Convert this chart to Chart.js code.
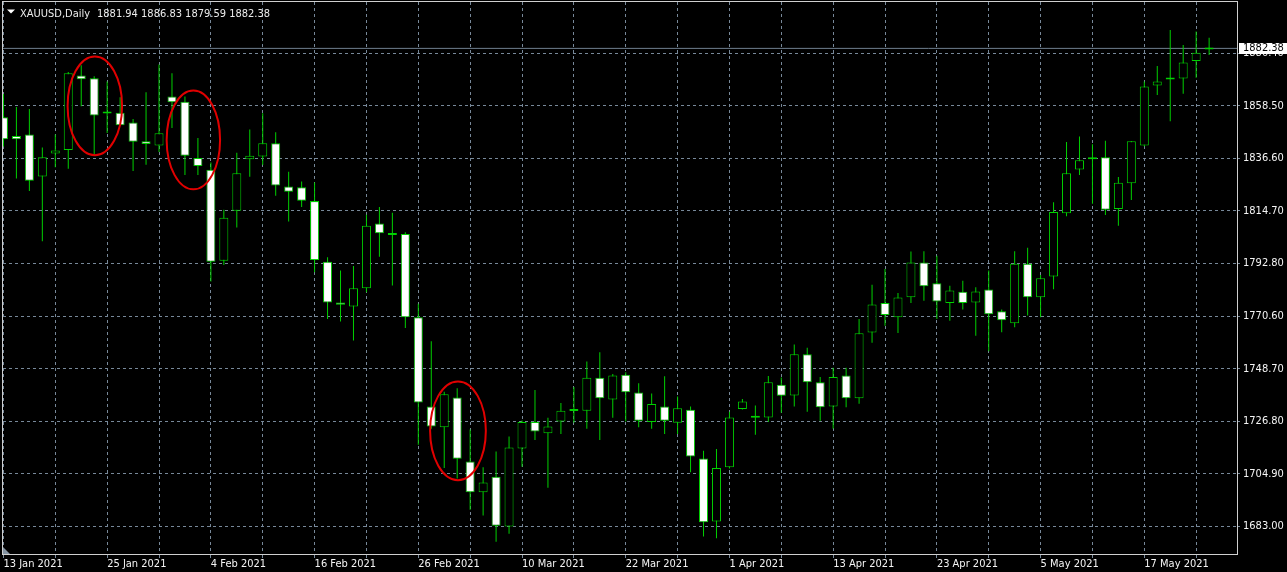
<!DOCTYPE html>
<html>
<head>
<meta charset="utf-8">
<script src="https://cdn.jsdelivr.net/npm/chart.js@4.4.1/dist/chart.umd.min.js"></script>
<style>
html,body{margin:0;padding:0;background:#000;overflow:hidden}
#wrap{width:1287px;height:572px;position:relative}
canvas{display:block}
</style>
</head>
<body>
<div id="wrap"><canvas id="c" width="1287" height="572"></canvas></div>
<script>
// ---------------- data ----------------
const symbol = 'XAUUSD,Daily';

const dates = ['13 Jan 2021','14 Jan 2021','15 Jan 2021','18 Jan 2021','19 Jan 2021','20 Jan 2021','21 Jan 2021','22 Jan 2021','25 Jan 2021','26 Jan 2021','27 Jan 2021','28 Jan 2021','29 Jan 2021',
'1 Feb 2021','2 Feb 2021','3 Feb 2021','4 Feb 2021','5 Feb 2021','8 Feb 2021','9 Feb 2021','10 Feb 2021','11 Feb 2021','12 Feb 2021','15 Feb 2021','16 Feb 2021','17 Feb 2021','18 Feb 2021','19 Feb 2021','22 Feb 2021','23 Feb 2021','24 Feb 2021','25 Feb 2021','26 Feb 2021',
'1 Mar 2021','2 Mar 2021','3 Mar 2021','4 Mar 2021','5 Mar 2021','8 Mar 2021','9 Mar 2021','10 Mar 2021','11 Mar 2021','12 Mar 2021','15 Mar 2021','16 Mar 2021','17 Mar 2021','18 Mar 2021','19 Mar 2021','22 Mar 2021','23 Mar 2021','24 Mar 2021','25 Mar 2021','26 Mar 2021','29 Mar 2021','30 Mar 2021','31 Mar 2021',
'1 Apr 2021','2 Apr 2021','5 Apr 2021','6 Apr 2021','7 Apr 2021','8 Apr 2021','9 Apr 2021','12 Apr 2021','13 Apr 2021','14 Apr 2021','15 Apr 2021','16 Apr 2021','19 Apr 2021','20 Apr 2021','21 Apr 2021','22 Apr 2021','23 Apr 2021','26 Apr 2021','27 Apr 2021','28 Apr 2021','29 Apr 2021','30 Apr 2021',
'3 May 2021','4 May 2021','5 May 2021','6 May 2021','7 May 2021','10 May 2021','11 May 2021','12 May 2021','13 May 2021','14 May 2021','17 May 2021','18 May 2021','19 May 2021','20 May 2021','21 May 2021','24 May 2021'];

const opens = [1853.7,1845.8,1846.5,1829.0,1838.5,1840.0,1871.1,1869.9,1855.9,1855.5,1851.5,1843.7,1841.9,
1862.3,1860.1,1836.7,1831.8,1793.8,1814.7,1836.1,1837.3,1842.8,1824.8,1824.5,1818.7,1793.4,1776.4,1774.7,1782.3,1809.3,1805.0,1805.0,1770.3,
1733.0,1724.4,1736.8,1710.1,1697.3,1703.7,1683.0,1715.5,1726.6,1721.9,1726.8,1731.2,1731.3,1745.0,1736.0,1746.3,1738.9,1726.6,1733.0,1726.3,1731.7,1711.4,1685.1,
1707.7,1732.0,1728.5,1728.4,1742.1,1737.6,1754.8,1743.2,1733.0,1746.0,1736.5,1763.9,1776.2,1770.3,1778.6,1793.1,1784.4,1776.2,1780.9,1776.4,1781.8,1772.8,
1767.8,1792.6,1778.6,1787.3,1813.6,1831.9,1836.1,1837.0,1815.4,1826.1,1841.9,1866.9,1869.4,1869.8,1877.1,1881.94];

const highs = [1863.4,1857.9,1857.1,1841.0,1846.5,1872.5,1875.3,1870.8,1868.6,1862.0,1852.9,1864.1,1875.7,
1872.0,1862.3,1845.0,1834.8,1815.1,1838.9,1848.6,1855.3,1847.4,1830.9,1826.9,1826.4,1795.3,1789.8,1791.6,1813.0,1816.2,1813.8,1805.7,1775.9,
1760.3,1739.2,1740.7,1723.4,1707.7,1714.3,1720.5,1727.2,1739.9,1728.3,1734.5,1741.2,1751.8,1755.7,1746.6,1747.3,1742.7,1738.5,1745.7,1737.2,1733.0,1714.6,1715.3,
1730.9,1736.2,1733.5,1745.8,1745.1,1758.9,1757.5,1745.3,1749.2,1749.2,1769.5,1783.8,1790.4,1780.4,1797.7,1797.8,1795.9,1783.4,1785.5,1782.8,1789.8,1773.5,
1797.8,1799.2,1787.9,1818.2,1843.3,1845.6,1842.4,1843.9,1828.7,1843.8,1868.6,1875.0,1890.0,1883.8,1889.4,1886.83];

const lows = [1841.5,1828.1,1822.9,1802.0,1832.8,1832.2,1858.2,1837.8,1847.1,1850.0,1831.2,1833.9,1839.2,
1849.2,1829.6,1829.6,1785.2,1792.0,1807.7,1828.8,1833.7,1820.9,1810.2,1816.2,1789.0,1769.5,1768.5,1760.6,1780.7,1795.5,1783.5,1765.8,1717.1,
1723.8,1707.4,1703.0,1690.0,1687.6,1676.6,1680.0,1707.9,1719.1,1699.2,1721.6,1726.3,1723.8,1719.1,1728.3,1726.8,1724.4,1723.8,1721.6,1721.6,1705.6,1678.8,1678.1,
1707.2,1731.8,1721.3,1726.6,1730.4,1733.0,1730.8,1727.1,1723.8,1732.7,1734.2,1759.6,1766.7,1763.7,1776.2,1777.1,1769.5,1768.8,1773.5,1762.5,1756.1,1764.0,
1766.1,1771.0,1770.3,1781.9,1812.4,1829.6,1817.6,1812.9,1808.4,1819.1,1841.6,1862.9,1852.0,1863.5,1870.1,1879.59];

const closes = [1844.5,1844.5,1827.2,1837.0,1839.8,1872.0,1869.5,1854.4,1855.2,1850.3,1843.4,1842.5,1847.0,
1859.9,1837.6,1833.3,1793.4,1811.8,1830.3,1837.6,1842.8,1825.2,1822.6,1818.8,1794.1,1776.4,1775.5,1782.3,1808.4,1805.3,1804.6,1770.3,1734.7,
1724.7,1738.1,1711.3,1697.3,1701.3,1683.3,1715.9,1726.6,1722.6,1724.7,1731.3,1731.4,1745.0,1736.5,1746.0,1739.0,1727.1,1734.1,1727.1,1732.3,1712.2,1684.8,1707.4,
1728.4,1735.1,1728.3,1743.2,1737.5,1754.8,1743.2,1732.7,1745.3,1736.5,1763.6,1775.6,1771.2,1778.5,1793.1,1783.2,1776.8,1781.4,1776.2,1781.0,1771.5,1769.0,
1792.6,1778.6,1786.5,1814.1,1830.3,1835.7,1837.0,1815.1,1826.3,1843.6,1866.5,1868.6,1869.6,1876.5,1880.6,1882.38];

const yTicks = [1683.00,1704.90,1726.80,1748.70,1770.60,1792.80,1814.70,1836.60,1858.50,1880.40];

// hand-drawn highlight ellipses: centre bar index, centre price, half-size in bars / price
const marks = [
  {bar: 7.05, price: 1858.4, halfBars: 2.10, halfPrice: 20.6},
  {bar: 14.65, price: 1844.2, halfBars: 2.06, halfPrice: 20.6},
  {bar: 35.06, price: 1722.9, halfBars: 2.15, halfPrice: 20.6}
];

// ---------------- view settings ----------------
const X_MIN = -0.034, X_MAX = 95.15;
const Y_MIN = 1671.53, Y_MAX = 1901.72;
const GRID_EVERY = 4, LABEL_EVERY = 8;

const GREEN = '#00d000';
const GRID = '#778899';
const TEXT = '#f4f4f4';
const FAMILY = '"DejaVu Sans Condensed", "Liberation Sans", Arial, sans-serif';
const FONT = {family: FAMILY, size: 11};

const N = dates.length;
const idx = dates.map((_, i) => i);
const last = N - 1;
const gridIdx = idx.filter(i => i % GRID_EVERY === 0);

const wickData = idx.map(i => ({x: i, y: [lows[i], highs[i]]}));
const bodyData = idx.map(i => ({x: i, y: [Math.min(opens[i], closes[i]), Math.max(opens[i], closes[i])]}));
const bodyFill = idx.map(i => closes[i] >= opens[i] ? '#000000' : '#ffffff');

const mtPlugin = {
  id: 'mt',
  beforeDraw(chart) {
    const ctx = chart.ctx;
    ctx.save();
    ctx.fillStyle = '#000';
    ctx.fillRect(0, 0, chart.width, chart.height);
    ctx.restore();
  },
  afterDatasetsDraw(chart) {
    const {ctx, scales: {x, y}} = chart;
    ctx.save();
    ctx.strokeStyle = '#e00000';
    ctx.lineWidth = 2;
    marks.forEach(m => {
      const cx = x.getPixelForValue(m.bar);
      const cy = y.getPixelForValue(m.price);
      const rx = Math.abs(x.getPixelForValue(m.bar + m.halfBars) - cx);
      const ry = Math.abs(y.getPixelForValue(m.price + m.halfPrice) - cy);
      ctx.beginPath();
      ctx.ellipse(cx, cy, rx, ry, 0, 0, Math.PI * 2);
      ctx.stroke();
    });
    ctx.restore();
  },
  afterDraw(chart) {
    const {ctx, chartArea: a, scales: {y}} = chart;
    ctx.save();
    // frame
    ctx.strokeStyle = '#cfcfcf';
    ctx.lineWidth = 1;
    ctx.strokeRect(a.left - 0.5, a.top - 0.5, a.right - a.left + 1, a.bottom - a.top + 1);
    // shift marker
    ctx.fillStyle = '#8594a3';
    ctx.beginPath();
    ctx.moveTo(a.left, a.bottom - 7);
    ctx.lineTo(a.left, a.bottom);
    ctx.lineTo(a.left + 7, a.bottom);
    ctx.closePath();
    ctx.fill();
    // header
    ctx.fillStyle = '#ffffff';
    ctx.beginPath();
    ctx.moveTo(7, 9.5); ctx.lineTo(15, 9.5); ctx.lineTo(11, 13.5); ctx.closePath();
    ctx.fill();
    ctx.font = '11px ' + FAMILY;
    ctx.fillStyle = '#ececec';
    ctx.textBaseline = 'alphabetic';
    ctx.textAlign = 'left';
    ctx.fillText(symbol, 20, 17);
    const f = v => v.toFixed(2);
    ctx.fillText([opens[last], highs[last], lows[last], closes[last]].map(f).join(' '), 97, 17);
    // last price box
    const py = y.getPixelForValue(closes[last]);
    ctx.fillStyle = '#ffffff';
    ctx.fillRect(a.right + 2, Math.round(py) - 5, chart.width - a.right - 2, 11);
    ctx.fillStyle = '#000000';
    ctx.textBaseline = 'middle';
    ctx.fillText(closes[last].toFixed(2), a.right + 6, Math.round(py) + 0.5);
    ctx.restore();
  }
};

new Chart(document.getElementById('c'), {
  type: 'bar',
  data: {
    datasets: [
      {
        type: 'line',
        data: [{x: X_MIN, y: closes[last]}, {x: X_MAX, y: closes[last]}],
        borderColor: '#6f7f8f',
        borderWidth: 1,
        pointRadius: 0,
        order: 3
      },
      {
        data: wickData,
        grouped: false,
        backgroundColor: GREEN,
        borderWidth: 0,
        barThickness: 1,
        maxBarThickness: 1,
        inflateAmount: 0,
        order: 2
      },
      {
        data: bodyData,
        grouped: false,
        backgroundColor: bodyFill,
        borderColor: GREEN,
        borderWidth: 1,
        borderSkipped: false,
        barThickness: 9,
        maxBarThickness: 9,
        minBarLength: 2,
        inflateAmount: 0,
        order: 1
      }
    ]
  },
  options: {
    responsive: false,
    animation: false,
    devicePixelRatio: 1,
    events: [],
    layout: {padding: {left: 3, top: 2, right: 0, bottom: 0}},
    plugins: {legend: {display: false}, tooltip: {enabled: false}, title: {display: false}},
    scales: {
      x: {
        type: 'linear',
        min: X_MIN,
        max: X_MAX,
        offset: false,
        afterBuildTicks: s => { s.ticks = gridIdx.map(v => ({value: v})); },
        afterFit: s => { s.height = 18; s.paddingLeft = 0; s.paddingRight = 0; },
        grid: {offset: false, color: GRID, lineWidth: 1, borderDash: [3, 3], drawTicks: true, tickLength: 4, tickColor: GRID, tickBorderDash: []},
        border: {display: false, dash: [3, 3]},
        ticks: {
          autoSkip: false, maxRotation: 0, minRotation: 0, align: 'start', padding: 0,
          color: TEXT, font: FONT,
          callback: v => (v % LABEL_EVERY === 0 && dates[v]) ? dates[v] : ''
        }
      },
      y: {
        type: 'linear',
        position: 'right',
        min: Y_MIN,
        max: Y_MAX,
        afterBuildTicks: s => { s.ticks = yTicks.map(v => ({value: v})); },
        afterFit: s => { s.width = 50; s.paddingTop = 0; s.paddingBottom = 0; },
        grid: {color: GRID, lineWidth: 1, borderDash: [3, 3], drawTicks: true, tickLength: 3, tickColor: GRID, tickBorderDash: []},
        border: {display: false, dash: [3, 3]},
        ticks: {padding: 3, color: TEXT, font: FONT, callback: v => Number(v).toFixed(2)}
      }
    }
  },
  plugins: [mtPlugin]
});
</script>
</body>
</html>
